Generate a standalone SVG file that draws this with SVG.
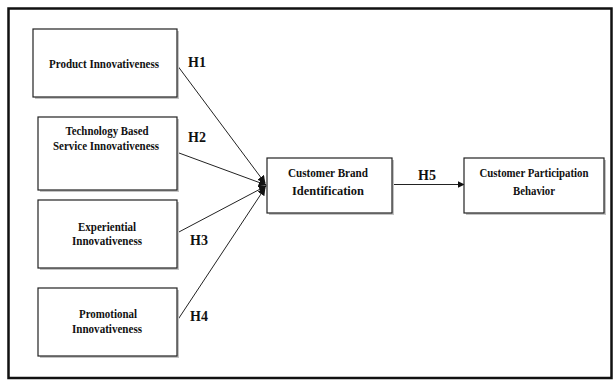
<svg xmlns="http://www.w3.org/2000/svg" width="614" height="381" viewBox="0 0 614 381">
<style>
.box{fill:#fff;stroke:#222;stroke-width:1.2}
.sh{fill:#c4c4c4}
.t{font-family:"Liberation Serif","Times New Roman",serif;font-weight:bold;font-size:12px;fill:#111;text-anchor:middle}
.h{font-family:"Liberation Serif","Times New Roman",serif;font-weight:bold;font-size:14px;fill:#111}
.ln{stroke:#222;stroke-width:1;fill:none}
</style>
<defs>
<marker id="ah" viewBox="0 0 10 10" refX="9" refY="5" markerWidth="8" markerHeight="8" orient="auto" markerUnits="userSpaceOnUse">
<path d="M0,0 L10,5 L0,10 z" fill="#111"/>
</marker>
<marker id="ah2" viewBox="0 0 10 10" refX="9" refY="5" markerWidth="7" markerHeight="7" orient="auto" markerUnits="userSpaceOnUse">
<path d="M0,0 L10,5 L0,10 z" fill="#111"/>
</marker>
</defs>
<rect x="0" y="0" width="614" height="381" fill="#fff"/>
<rect x="8.5" y="8.5" width="603" height="369.5" fill="none" stroke="#111" stroke-width="2.5"/>
<g id="connectors">
<line class="ln" x1="177" y1="65" x2="265" y2="183" marker-end="url(#ah)"/>
<line class="ln" x1="179" y1="153" x2="266" y2="185" marker-end="url(#ah)"/>
<line class="ln" x1="177" y1="233" x2="266" y2="186" marker-end="url(#ah)"/>
<line class="ln" x1="177" y1="321" x2="265" y2="188" marker-end="url(#ah)"/>
<line class="ln" x1="392" y1="184.5" x2="464" y2="184.5" marker-end="url(#ah2)"/>
<text class="h" x="188" y="67">H1</text>
<text class="h" x="188" y="142">H2</text>
<text class="h" x="190" y="245">H3</text>
<text class="h" x="190" y="321">H4</text>
<text class="h" x="418" y="180">H5</text>
</g>
<g id="n1">
<rect class="sh" x="35" y="31" width="144" height="68"/>
<rect class="box" x="33" y="29" width="144" height="68"/>
<text class="t" x="104" y="68" textLength="110" lengthAdjust="spacingAndGlyphs">Product Innovativeness</text>
</g>
<g id="n2">
<rect class="sh" x="40" y="119" width="139" height="73"/>
<rect class="box" x="38" y="117" width="139" height="73"/>
<text class="t" x="107" y="135" textLength="83" lengthAdjust="spacingAndGlyphs">Technology Based</text>
<text class="t" x="106" y="150" textLength="106" lengthAdjust="spacingAndGlyphs">Service Innovativeness</text>
</g>
<g id="n3">
<rect class="sh" x="40" y="202" width="139" height="68"/>
<rect class="box" x="38" y="200" width="139" height="68"/>
<text class="t" x="107" y="231" textLength="58" lengthAdjust="spacingAndGlyphs">Experiential</text>
<text class="t" x="107" y="245" textLength="70" lengthAdjust="spacingAndGlyphs">Innovativeness</text>
</g>
<g id="n4">
<rect class="sh" x="40" y="290" width="139" height="68"/>
<rect class="box" x="38" y="288" width="139" height="68"/>
<text class="t" x="108" y="318" textLength="58" lengthAdjust="spacingAndGlyphs">Promotional</text>
<text class="t" x="107" y="333" textLength="70" lengthAdjust="spacingAndGlyphs">Innovativeness</text>
</g>
<g id="n5">
<rect class="sh" x="269" y="160" width="125" height="55"/>
<rect class="box" x="267" y="158" width="125" height="55"/>
<text class="t" x="328" y="177" textLength="80" lengthAdjust="spacingAndGlyphs">Customer Brand</text>
<text class="t" x="328" y="195" textLength="72" lengthAdjust="spacingAndGlyphs">Identification</text>
</g>
<g id="n6">
<rect class="sh" x="466" y="160" width="140" height="55"/>
<rect class="box" x="464" y="158" width="140" height="55"/>
<text class="t" x="534" y="177" textLength="109" lengthAdjust="spacingAndGlyphs">Customer Participation</text>
<text class="t" x="534" y="195" textLength="42" lengthAdjust="spacingAndGlyphs">Behavior</text>
</g>
</svg>
